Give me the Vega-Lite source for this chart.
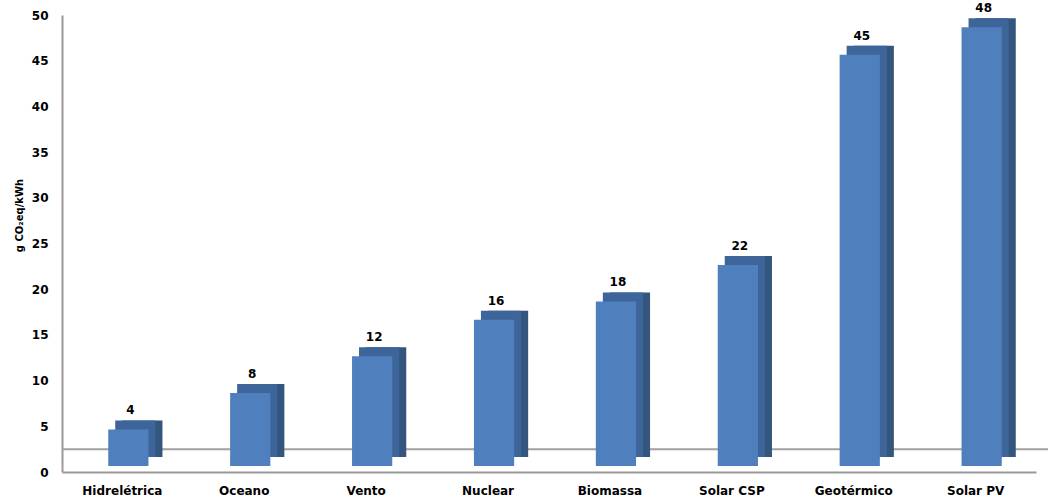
{
  "$schema": "https://vega.github.io/schema/vega-lite/v6.json",
  "autosize": "none",
  "width": 974,
  "height": 457,
  "padding": {"left": 62, "top": 15, "right": 12, "bottom": 32},
  "background": "white",
  "config": {"view": {"stroke": null}, "font": "DejaVu Sans"},
  "data": {"values": [
    {"fonte": "Hidrelétrica", "valor": 4},
    {"fonte": "Oceano", "valor": 8},
    {"fonte": "Vento", "valor": 12},
    {"fonte": "Nuclear", "valor": 16},
    {"fonte": "Biomassa", "valor": 18},
    {"fonte": "Solar CSP", "valor": 22},
    {"fonte": "Geotérmico", "valor": 45},
    {"fonte": "Solar PV", "valor": 48}
  ]},
  "encoding": {
    "x": {"field": "fonte", "type": "nominal", "sort": null,
      "scale": {"paddingInner": 0.67, "paddingOuter": 0.33},
      "axis": {"title": null, "labelAngle": 0, "labelFontWeight": "bold", "labelFontSize": 12, "labelColor": "black", "ticks": false, "labelPadding": 13, "domainColor": "#9a9a9a", "domainWidth": 2}},
    "y": {"field": "valor", "type": "quantitative",
      "scale": {"domain": [0, 50], "nice": false},
      "axis": {"title": "g CO₂eq/kWh", "titleFontSize": 10, "titleFontWeight": "bold", "titleColor": "black", "titleX": -38, "titleY": 200, "values": [0,5,10,15,20,25,30,35,40,45,50], "grid": false, "ticks": false, "labelPadding": 14, "labelFontWeight": "bold", "labelFontSize": 12, "labelColor": "black", "domainColor": "#9a9a9a", "domainWidth": 2}}
  },
  "layer": [
    {"mark": {"type": "rule", "color": "#a0a0a0", "strokeWidth": 2, "xOffset": 35, "x2Offset": 12},
     "data": {"values": [{"v": 2.5}]},
     "encoding": {"x": null, "y": {"field": "v", "type": "quantitative"}}},
    {"mark": {"type": "bar", "color": "#33557e", "xOffset": 20, "x2Offset": 20, "yOffset": -15, "y2Offset": -15}},
    {"mark": {"type": "bar", "color": "#3d6599", "xOffset": 13, "x2Offset": 13, "yOffset": -15, "y2Offset": -6}},
    {"mark": {"type": "bar", "color": "#4f80bd", "xOffset": 6, "x2Offset": 6, "yOffset": -6, "y2Offset": -6}},
    {"mark": {"type": "text", "fontWeight": "bold", "fontSize": 12, "color": "black", "dy": -25, "dx": 8, "baseline": "middle"},
     "encoding": {"text": {"field": "valor", "type": "quantitative"}}}
  ]
}
